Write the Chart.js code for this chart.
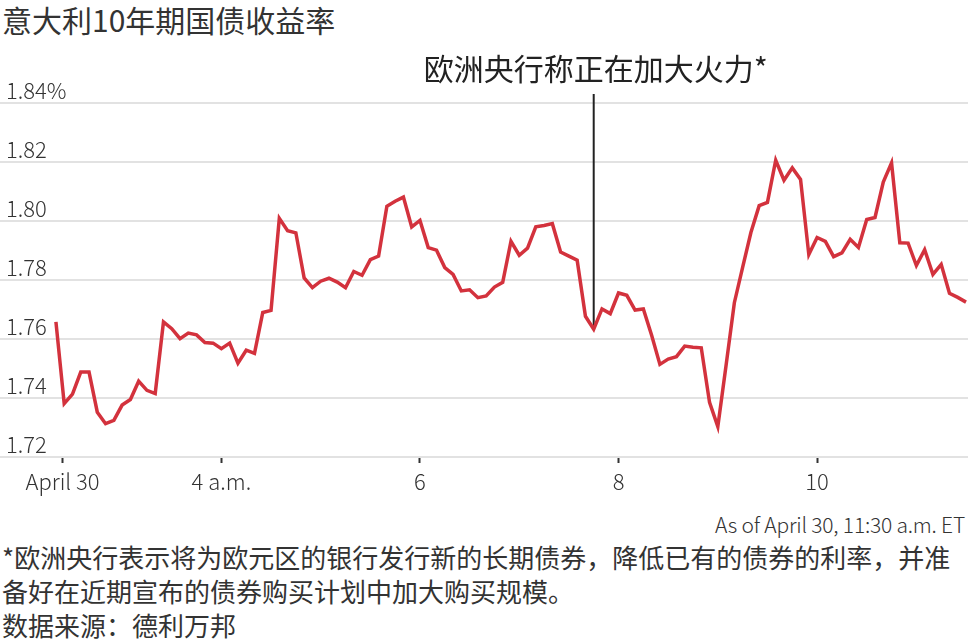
<!DOCTYPE html>
<html>
<head>
<meta charset="utf-8">
<script src="https://cdn.jsdelivr.net/npm/chart.js@4.4.1/dist/chart.umd.min.js"></script>
<style>
  html, body { margin: 0; padding: 0; background: #fff; }
  body {
    width: 968px; height: 644px; position: relative; overflow: hidden;
    font-family: 'Noto Sans CJK SC', sans-serif; color: #333;
  }
  #title { position: absolute; left: 2px; top: 3px; font-size: 30px; line-height: 32px; white-space: nowrap; }
  #wrap { position: absolute; left: 0; top: 0; width: 968px; height: 500px; }
  #asof {
    position: absolute; right: 3px; top: 509px; white-space: nowrap;
    font: 300 21px 'Noto Sans CJK SC', sans-serif; letter-spacing: -0.2px;
  }
  #note { position: absolute; left: 2px; top: 540px; font-size: 26px; line-height: 34px; white-space: nowrap; }
</style>
</head>
<body>
<div id="title">意大利10年期国债收益率</div>
<div id="wrap"><canvas id="chart" width="968" height="500"></canvas></div>
<div id="asof">As of April 30, 11:30 a.m. ET</div>
<div id="note">*欧洲央行表示将为欧元区的银行发行新的长期债券，降低已有的债券的利率，并准<br>备好在近期宣布的债券购买计划中加大购买规模。<br>数据来源：德利万邦</div>

<script>
'use strict'

// times, ET on April 30
const times = [
  '2:20', '2:25', '2:30', '2:35', '2:40', '2:45', '2:50', '2:55',
  '3:00', '3:05', '3:10', '3:15', '3:20', '3:25', '3:30', '3:35', '3:40', '3:45', '3:50', '3:55',
  '4:00', '4:05', '4:10', '4:15', '4:20', '4:25', '4:30', '4:35', '4:40', '4:45', '4:50', '4:55',
  '5:00', '5:05', '5:10', '5:15', '5:20', '5:25', '5:30', '5:35', '5:40', '5:45', '5:50', '5:55',
  '6:00', '6:05', '6:10', '6:15', '6:20', '6:25', '6:30', '6:35', '6:40', '6:45', '6:50', '6:55',
  '7:00', '7:05', '7:10', '7:15', '7:20', '7:25', '7:30', '7:35', '7:40', '7:45', '7:50', '7:55',
  '8:00', '8:05', '8:10', '8:15', '8:20', '8:25', '8:30', '8:35', '8:40', '8:45', '8:50', '8:55',
  '9:00', '9:05', '9:10', '9:15', '9:20', '9:25', '9:30', '9:35', '9:40', '9:45', '9:50', '9:55',
  '10:00', '10:05', '10:10', '10:15', '10:20', '10:25', '10:30', '10:35', '10:40', '10:45', '10:50', '10:55',
  '11:00', '11:05', '11:10', '11:15', '11:20', '11:25', '11:30'
]

// Italy 10-year yield, %
const yields = [
  1.7658, 1.7381, 1.7413, 1.7488, 1.7488, 1.7352, 1.7313, 1.7324,
  1.7376, 1.7395, 1.7457, 1.7426, 1.7415, 1.7658, 1.7635, 1.7601, 1.7620, 1.7614, 1.7588, 1.7586,
  1.7567, 1.7586, 1.7518, 1.7562, 1.7551, 1.7690, 1.7697, 1.8009, 1.7967, 1.7960, 1.7807, 1.7774,
  1.7796, 1.7806, 1.7793, 1.7774, 1.7829, 1.7816, 1.7869, 1.7881, 1.8050, 1.8067, 1.8081, 1.7980,
  1.8002, 1.7910, 1.7901, 1.7842, 1.7819, 1.7763, 1.7767, 1.7740, 1.7746, 1.7776, 1.7792, 1.7931,
  1.7884, 1.7908, 1.7980, 1.7985, 1.7991, 1.7895, 1.7881, 1.7867, 1.7677, 1.7633, 1.7702, 1.7686,
  1.7756, 1.7748, 1.7698, 1.7702, 1.7613, 1.7514, 1.7532, 1.7540, 1.7576, 1.7572, 1.7570, 1.7385,
  1.7303, 1.7511, 1.7723, 1.7843, 1.7961, 1.8052, 1.8063, 1.8206, 1.8138, 1.8180, 1.8141, 1.7886,
  1.7944, 1.7931, 1.7879, 1.7892, 1.7938, 1.7910, 1.8005, 1.8012, 1.8132, 1.8197, 1.7926, 1.7925,
  1.7849, 1.7903, 1.7819, 1.7853, 1.7755, 1.7741, 1.7725
]

const xTickValues = [2.4, 4, 6, 8, 10] // hours
const xTickLabels = ['April 30', '4 a.m.', '6', '8', '10']
const yTickValues = [1.72, 1.74, 1.76, 1.78, 1.80, 1.82, 1.84]

const annotationTime = '7:45'
const annotationText = '欧洲央行称正在加大火力*'

const toHours = t => {
  const [h, m] = t.split(':').map(Number)
  return h + m / 60
}

const points = times.map((t, i) => ({ x: toHours(t), y: yields[i] }))

const tickFont = { family: "'Noto Sans CJK SC', sans-serif", size: 22, weight: 300 }

const annotationPlugin = {
  id: 'ecbNote',
  beforeDatasetsDraw(chart) {
    const { ctx, scales: { x, y }, chartArea } = chart
    const idx = times.indexOf(annotationTime)
    const px = x.getPixelForValue(toHours(annotationTime))
    const py = y.getPixelForValue(yields[idx])

    ctx.save()
    ctx.strokeStyle = '#222'
    ctx.lineWidth = 2
    ctx.beginPath()
    ctx.moveTo(px, py)
    ctx.lineTo(px, chartArea.top - 9)
    ctx.stroke()

    ctx.fillStyle = '#222'
    ctx.font = "30px 'Noto Sans CJK SC', sans-serif"
    ctx.textAlign = 'center'
    ctx.textBaseline = 'middle'
    ctx.fillText(annotationText, px + 2, chartArea.top - 34)
    ctx.restore()
  }
}

new Chart(document.getElementById('chart').getContext('2d'), {
  type: 'line',
  data: {
    datasets: [{
      data: points,
      borderColor: '#d3323d',
      borderWidth: 3.5,
      pointRadius: 0,
      tension: 0,
      fill: false
    }]
  },
  options: {
    responsive: false,
    animation: false,
    layout: { padding: { top: 103, left: 0, right: 0, bottom: 0 } },
    plugins: {
      legend: { display: false },
      tooltip: { enabled: false }
    },
    scales: {
      x: {
        type: 'linear',
        min: 1.77,
        max: 11.52,
        afterBuildTicks: scale => {
          scale.ticks = xTickValues.map(v => ({ value: v }))
        },
        afterFit: scale => { scale.height = 43 },
        border: { display: false },
        grid: {
          drawOnChartArea: false,
          drawTicks: true,
          tickLength: 6,
          tickWidth: 2,
          tickColor: '#333'
        },
        ticks: {
          font: tickFont,
          color: '#333',
          padding: 5,
          maxRotation: 0,
          autoSkip: false,
          callback: v => xTickLabels[xTickValues.indexOf(v)]
        }
      },
      y: {
        min: 1.72,
        max: 1.84,
        afterBuildTicks: scale => {
          scale.ticks = yTickValues.map(v => ({ value: v }))
        },
        afterFit: scale => { scale.width = 0 },
        border: { display: false },
        grid: { color: '#e2e2e2', lineWidth: 2, drawTicks: false },
        ticks: {
          mirror: true,
          padding: 6,
          labelOffset: -12,
          font: tickFont,
          color: '#333',
          callback: v => v === 1.84 ? '1.84%' : v.toFixed(2)
        }
      }
    }
  },
  plugins: [annotationPlugin]
})
</script>
</body>
</html>
